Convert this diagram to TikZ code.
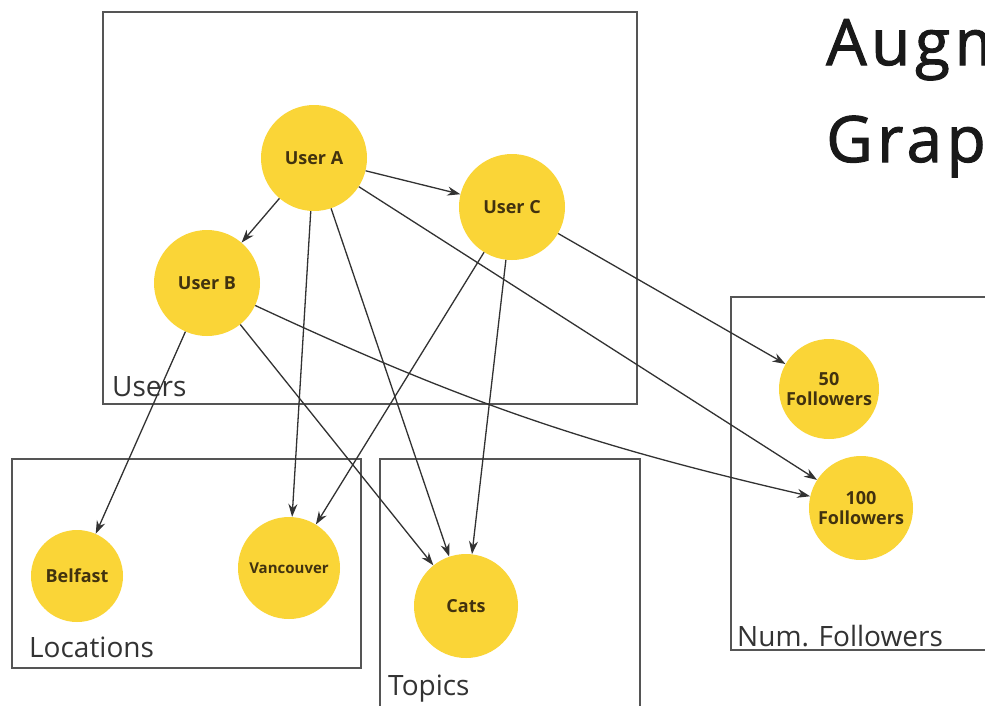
\documentclass[tikz,border=0pt]{standalone}
\usepackage{fontspec}
\setmainfont{Open Sans}
\newfontfamily\ttlfont{Open Sans}[LetterSpace=7,FakeBold=1.6]
\usepackage{tikz}
\usetikzlibrary{arrows.meta,positioning}
\definecolor{nodeyel}{RGB}{250,213,55}
\definecolor{edgegr}{RGB}{50,50,50}
\definecolor{boxgr}{RGB}{85,85,85}
\definecolor{txtbr}{RGB}{65,50,15}

\begin{document}
\begin{tikzpicture}[
  x=1pt,y=-1pt,
  nd/.style={circle,fill=nodeyel,draw=none,inner sep=0pt,minimum size=106pt,
    font=\fontsize{18}{20}\selectfont\bfseries,text=txtbr,align=center},
  grp/.style={draw=boxgr,line width=1.5pt},
  glab/.style={font=\fontsize{28}{30}\selectfont,text=black!80,inner sep=0pt,anchor=base west},
  ttl/.style={font=\ttlfont\fontsize{64}{76}\selectfont,text=black!90,inner sep=0pt,anchor=base west},
  ar/.style={-{Stealth[length=13pt,width=9pt]},draw=edgegr,line width=1.3pt}
]
\clip (0,0) rectangle (985,705);
\fill[white] (0,0) rectangle (985,705);

\draw[grp] (103,12) rectangle (637,404);
\draw[grp] (12,459) rectangle (361,668);
\draw[grp] (380,459) rectangle (640,720);
\draw[grp] (731,297) rectangle (1000,650);

\node[glab] (lusers) at (112,396) {Users};
\node[glab] (lloc)   at (29,657)  {Locations};
\node[glab] (ltop)   at (388,695) {Topics};
\node[glab] (lfol)   at (737,646) {Num. Followers};

\node[ttl] (title1) at (826,65)  {Augmented};
\node[ttl] (title2) at (826,162) {Graph};

\node[nd] (ua) at (314,158) {User A};
\node[nd] (uc) at (512,207) {User C};
\node[nd] (ub) at (207,283) {User B};
\node[nd,minimum size=92pt] (bel) at (77,576) {Belfast};
\node[nd,minimum size=102pt,font=\fontsize{15}{17}\selectfont\bfseries] (van) at (289,568) {Vancouver};
\node[nd,minimum size=104pt] (cat) at (466,606) {Cats};
\node[nd,minimum size=100pt] (f50) at (829,389) {50\\Followers};
\node[nd,minimum size=104pt] (f100) at (861,508) {100\\Followers};

\draw[ar] (ua)--(uc);
\draw[ar] (ua)--(ub);
\draw[ar] (ua)--(van);
\draw[ar] (ua)--(cat);
\draw[ar] (ua)--(f100);
\draw[ar] (ub)--(bel);
\draw[ar] (ub)--(cat);
\draw[ar] (ub) to[bend right=6] (f100);
\draw[ar] (uc)--(van);
\draw[ar] (uc)--(cat);
\draw[ar] (uc)--(f50);
\end{tikzpicture}
\end{document}
